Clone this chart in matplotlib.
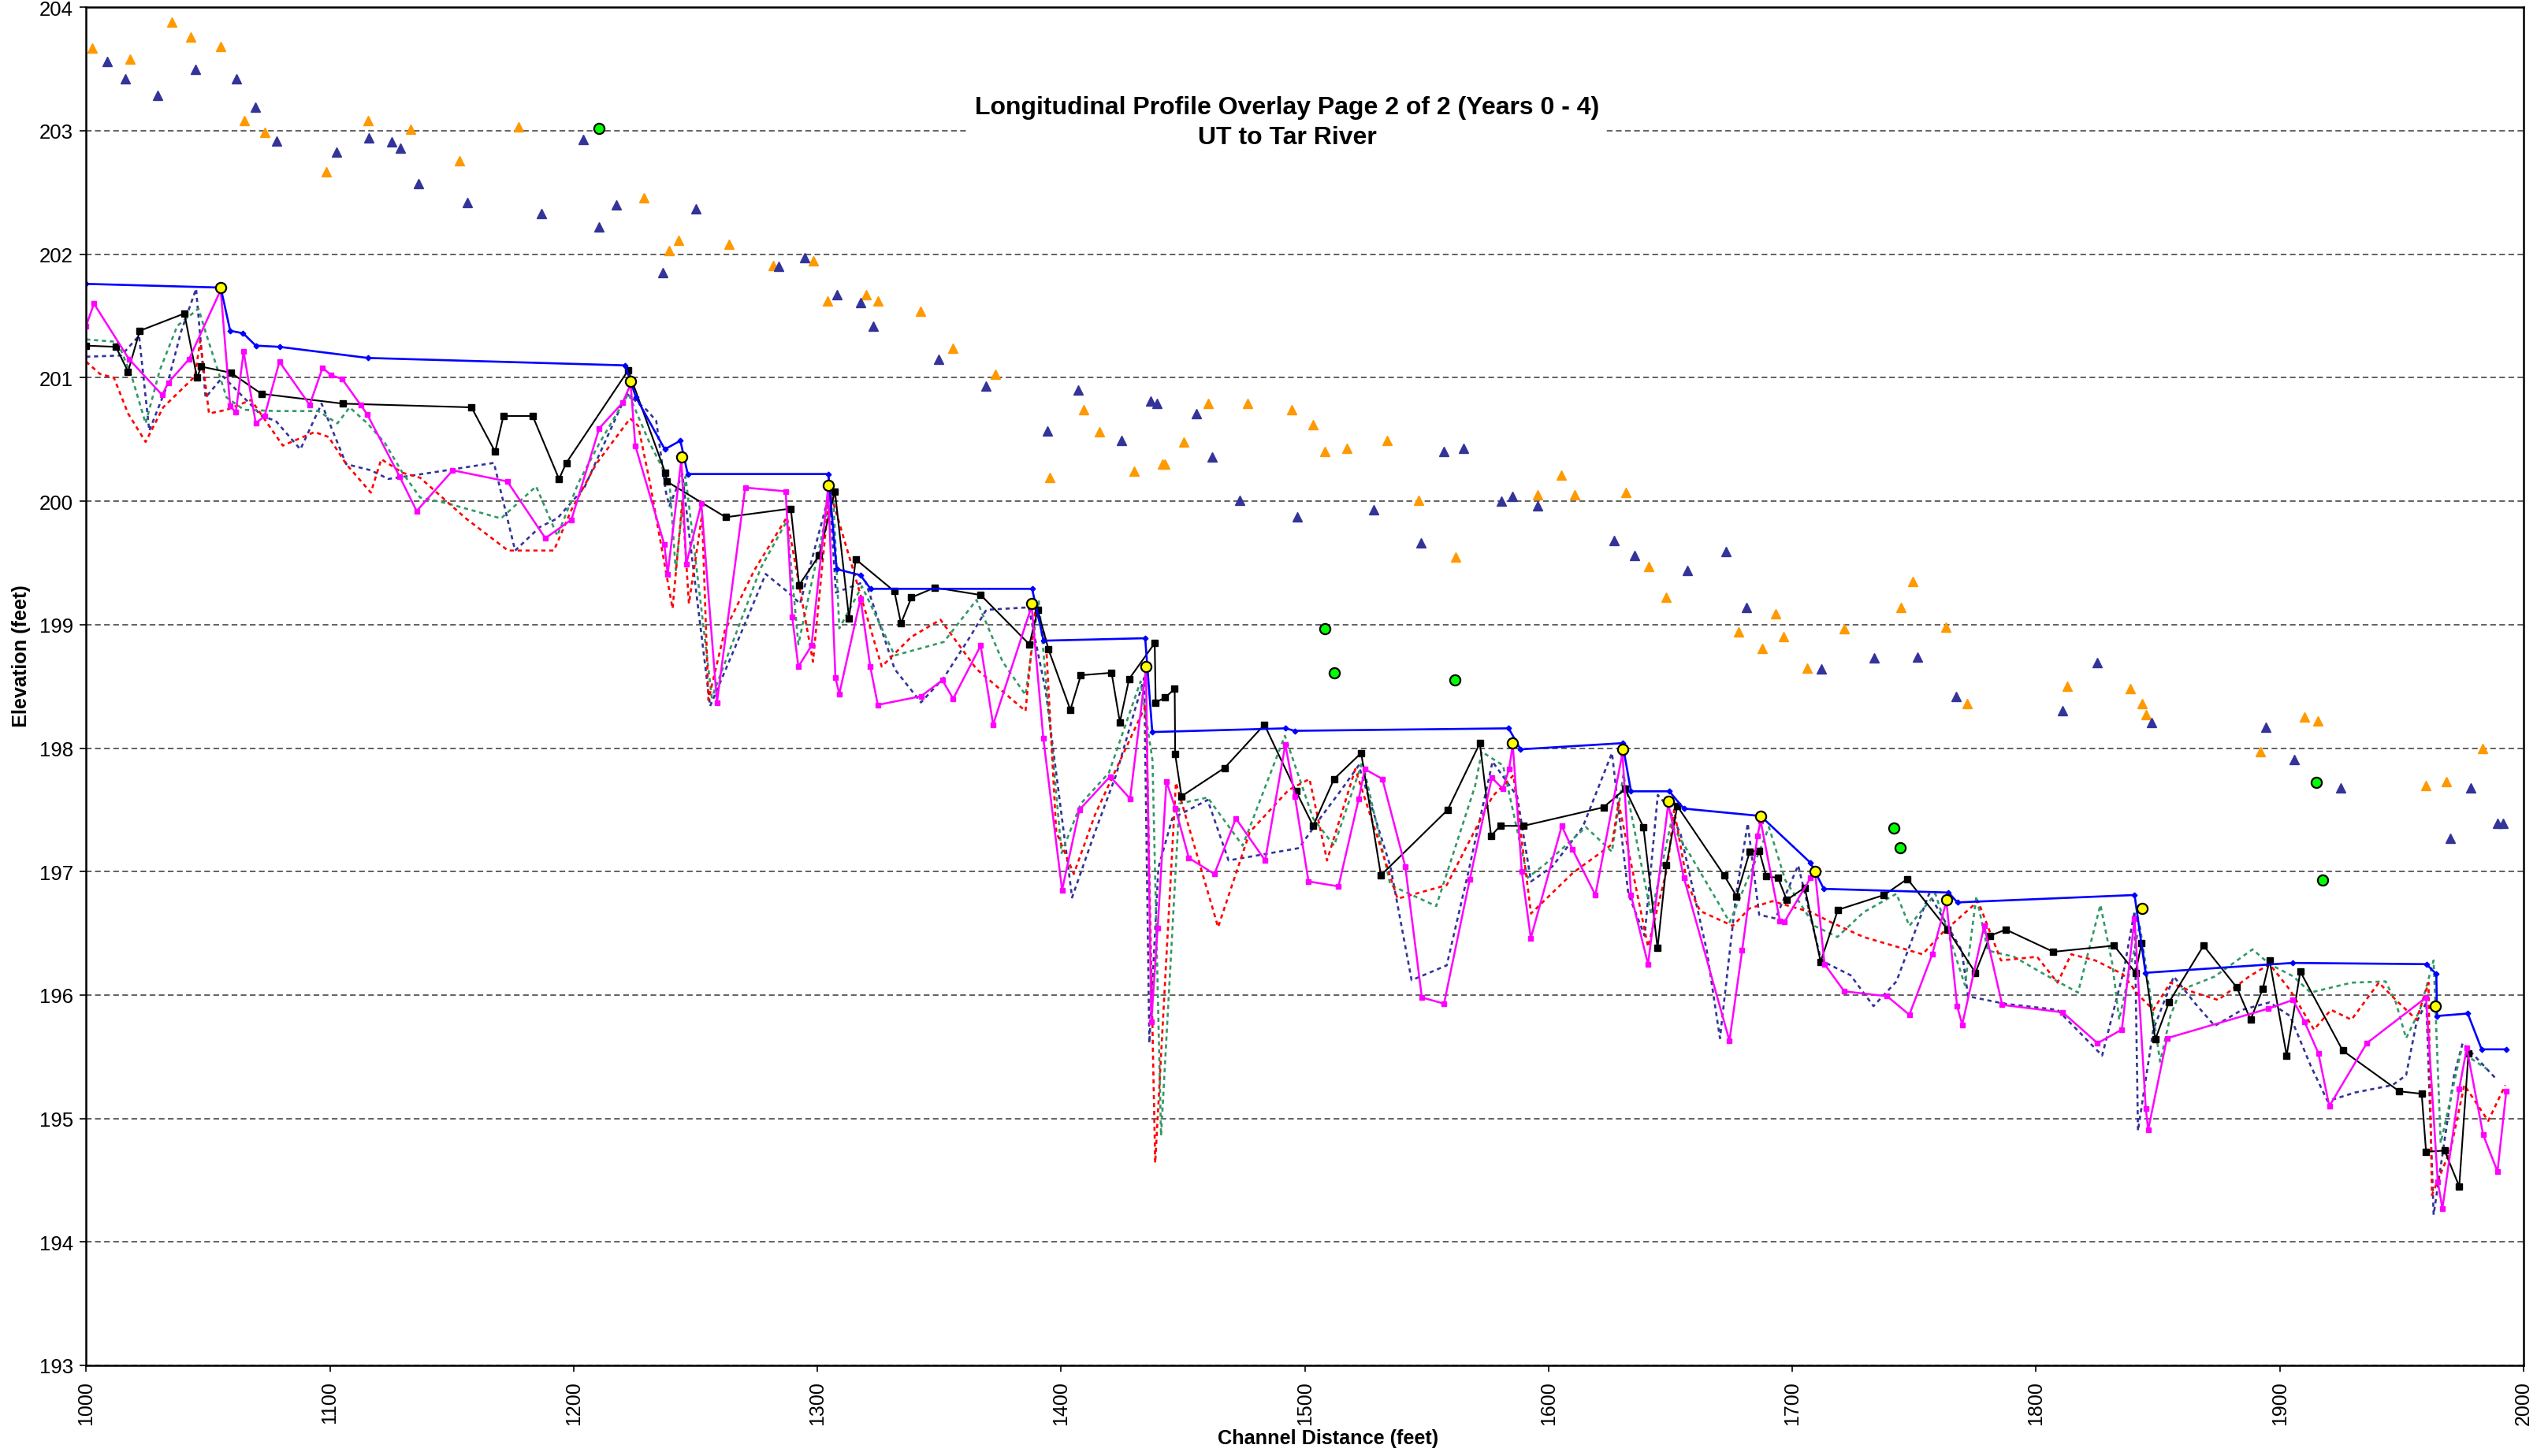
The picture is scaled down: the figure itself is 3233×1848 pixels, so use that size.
import matplotlib
matplotlib.use("Agg")
import matplotlib.pyplot as plt

plt.rcParams['font.family'] = ['Liberation Sans', 'DejaVu Sans']

# ---------------- data ----------------
blue_x = [1000, 1055.2, 1059.1, 1064.4, 1069.6, 1079.3, 1115.6, 1221.1, 1225.6, 1237.4, 1243.8, 1246.8,
          1304.5, 1307.9, 1317.7, 1321.8, 1388.1, 1392.8, 1434.5, 1437.4, 1492.1, 1495.9, 1583.6, 1588.5,
          1630.3, 1633.8, 1649.5, 1655.5, 1687.0, 1707.5, 1712.9, 1764.1, 1767.7, 1840.4, 1844.9, 1905.3,
          1960.1, 1964.2, 1964.5, 1977.1, 1982.8, 1992.9]
blue_y = [201.76, 201.73, 201.38, 201.36, 201.26, 201.25, 201.16, 201.10, 200.84, 200.42, 200.49, 200.22,
          200.22, 199.45, 199.40, 199.29, 199.29, 198.87, 198.89, 198.13, 198.16, 198.14, 198.16, 197.99,
          198.04, 197.65, 197.65, 197.51, 197.45, 197.07, 196.86, 196.83, 196.75, 196.81, 196.18, 196.26,
          196.25, 196.17, 195.83, 195.85, 195.56, 195.56]

black_x = [1000, 1012.2, 1017.2, 1022.0, 1040.3, 1045.5, 1047.2, 1059.4, 1071.9, 1105.3, 1158.1, 1167.8,
           1171.2, 1183.2, 1194.0, 1197.0, 1222.4, 1237.6, 1238.2, 1262.4, 1289.1, 1292.5, 1300.7, 1307.2,
           1313.0, 1315.7, 1331.6, 1334.3, 1338.6, 1348.2, 1367.0, 1387.0, 1390.4, 1394.8, 1403.8, 1408.1,
           1420.7, 1424.1, 1427.9, 1438.4, 1438.8, 1442.7, 1446.6, 1446.8, 1449.4, 1467.1, 1483.4, 1496.4,
           1503.4, 1512.0, 1523.1, 1531.2, 1558.6, 1571.8, 1576.4, 1580.2, 1589.7, 1622.5, 1631.4, 1638.9,
           1644.7, 1648.3, 1652.8, 1672.0, 1677.1, 1682.5, 1686.4, 1689.3, 1694.1, 1697.7, 1705.1, 1711.6,
           1718.7, 1737.6, 1747.2, 1763.7, 1775.1, 1781.1, 1787.6, 1807.1, 1832.0, 1840.8, 1843.3, 1848.9,
           1854.5, 1868.7, 1882.4, 1888.0, 1893.0, 1895.8, 1902.8, 1908.4, 1925.8, 1949.0, 1958.2, 1960.0,
           1967.6, 1973.6, 1977.4]
black_y = [201.26, 201.25, 201.05, 201.38, 201.52, 201.00, 201.09, 201.04, 200.87, 200.79, 200.76, 200.40,
           200.69, 200.69, 200.18, 200.31, 201.06, 200.23, 200.16, 199.87, 199.94, 199.32, 199.56, 200.08,
           199.05, 199.53, 199.27, 199.01, 199.22, 199.30, 199.24, 198.84, 199.12, 198.80, 198.31, 198.59,
           198.61, 198.21, 198.56, 198.85, 198.37, 198.41, 198.48, 197.95, 197.61, 197.84, 198.19, 197.65,
           197.37, 197.75, 197.96, 196.97, 197.50, 198.04, 197.29, 197.37, 197.37, 197.52, 197.67, 197.36,
           196.38, 197.05, 197.53, 196.97, 196.80, 197.16, 197.17, 196.96, 196.95, 196.77, 196.87, 196.27,
           196.69, 196.81, 196.94, 196.53, 196.18, 196.48, 196.53, 196.35, 196.40, 196.18, 196.42, 195.64,
           195.94, 196.40, 196.06, 195.80, 196.05, 196.28, 195.51, 196.19, 195.55, 195.22, 195.20, 194.73,
           194.74, 194.45, 195.53]

magenta_x = [1000, 1003.2, 1017.6, 1031.2, 1033.7, 1042.2, 1055.2, 1059.1, 1061.4, 1064.6, 1069.6, 1073.2,
             1079.3, 1091.7, 1097.0, 1100.6, 1105.0, 1112.6, 1115.4, 1128.6, 1135.6, 1150.4, 1172.8, 1188.4,
             1199.1, 1210.5, 1220.2, 1223.4, 1225.3, 1237.2, 1238.6, 1244.2, 1246.2, 1252.4, 1258.8, 1270.4,
             1287.0, 1289.7, 1292.2, 1297.6, 1304.4, 1307.4, 1309.0, 1317.7, 1321.7, 1324.8, 1342.5, 1351.3,
             1355.7, 1367.0, 1372.1, 1387.9, 1392.7, 1400.4, 1407.5, 1420.1, 1428.3, 1434.8, 1437.0, 1439.6,
             1443.2, 1446.9, 1452.4, 1462.9, 1471.7, 1483.7, 1492.0, 1495.9, 1501.5, 1513.8, 1522.1, 1524.6,
             1531.8, 1541.2, 1548.0, 1557.1, 1567.7, 1576.7, 1581.2, 1583.8, 1585.3, 1589.0, 1592.7, 1605.4,
             1609.8, 1619.2, 1630.3, 1633.8, 1640.8, 1649.1, 1655.5, 1674.2, 1679.4, 1685.7, 1687.0, 1694.9,
             1696.7, 1707.5, 1709.3, 1713.2, 1721.3, 1738.9, 1748.0, 1757.4, 1763.2, 1767.6, 1769.7, 1778.7,
             1786.1, 1810.9, 1825.2, 1835.2, 1840.4, 1845.0, 1846.0, 1853.7, 1895.3, 1905.4, 1910.2, 1915.8,
             1920.3, 1935.7, 1960.0, 1964.8, 1966.7, 1973.6, 1976.7, 1983.4, 1989.3, 1992.9]
magenta_y = [201.42, 201.60, 201.15, 200.86, 200.96, 201.15, 201.71, 200.77, 200.72, 201.21, 200.63, 200.69,
             201.13, 200.78, 201.08, 201.02, 200.99, 200.78, 200.70, 200.20, 199.92, 200.25, 200.16, 199.70,
             199.85, 200.59, 200.80, 200.95, 200.45, 199.65, 199.41, 200.34, 199.49, 199.98, 198.37, 200.11,
             200.08, 199.06, 198.66, 198.83, 200.11, 198.57, 198.44, 199.21, 198.66, 198.35, 198.42, 198.55,
             198.40, 198.83, 198.19, 199.15, 198.08, 196.85, 197.50, 197.77, 197.59, 198.64, 195.78, 196.54,
             197.73, 197.51, 197.11, 196.98, 197.43, 197.09, 198.03, 197.61, 196.92, 196.88, 197.59, 197.83,
             197.75, 197.04, 195.98, 195.93, 196.94, 197.76, 197.67, 197.83, 198.03, 197.00, 196.46, 197.37,
             197.18, 196.81, 197.96, 196.81, 196.25, 197.55, 196.95, 195.63, 196.36, 197.29, 197.41, 196.60,
             196.59, 196.95, 197.00, 196.25, 196.03, 195.99, 195.84, 196.33, 196.76, 195.91, 195.76, 196.56,
             195.92, 195.86, 195.61, 195.72, 196.62, 195.08, 194.91, 195.65, 195.89, 195.96, 195.78, 195.53,
             195.10, 195.61, 195.98, 194.49, 194.27, 195.24, 195.57, 194.87, 194.57, 195.22]

navy_x = [1000, 1014.4, 1021.7, 1025.9, 1033.1, 1038.9, 1045.1, 1049.0, 1056.2, 1072.1, 1077.8, 1087.9,
          1096.6, 1106.7, 1116.8, 1124.0, 1141.3, 1167.3, 1176.0, 1186.1, 1193.3, 1204.4, 1221.8, 1229.9,
          1233.9, 1237.9, 1239.3, 1244.6, 1247.3, 1256.0, 1266.1, 1278.8, 1287.5, 1292.9, 1302.9, 1305.0,
          1307.6, 1319.7, 1331.7, 1342.5, 1351.9, 1362.6, 1369.3, 1386.7, 1393.7, 1404.5, 1413.9, 1422.5,
          1434.1, 1436.2, 1439.9, 1445.6, 1460.1, 1468.7, 1477.4, 1497.6, 1506.2, 1514.9, 1522.1, 1535.1,
          1543.8, 1558.2, 1566.9, 1577.0, 1587.1, 1592.8, 1601.5, 1614.0, 1626.0, 1632.7, 1639.4, 1644.8,
          1648.8, 1654.2, 1664.9, 1670.3, 1677.0, 1681.7, 1686.4, 1693.1, 1702.4, 1711.8, 1723.9, 1733.3,
          1742.7, 1756.1, 1769.5, 1772.1, 1786.9, 1808.8, 1827.1, 1836.0, 1840.4, 1841.8, 1848.1, 1856.5,
          1864.9, 1873.3, 1884.5, 1895.8, 1904.2, 1912.6, 1919.6, 1930.8, 1946.2, 1951.8, 1956.1, 1960.1,
          1963.1, 1971.5, 1975.0, 1988.3]
navy_y = [201.17, 201.18, 201.34, 200.57, 200.93, 201.37, 201.72, 200.84, 201.01, 200.69, 200.65, 200.42,
          200.79, 200.30, 200.25, 200.18, 200.23, 200.31, 199.60, 199.79, 199.86, 200.11, 200.87, 200.74,
          200.65, 200.07, 199.96, 200.22, 199.75, 198.34, 198.81, 199.41, 199.27, 199.17, 199.91, 200.07,
          199.26, 199.35, 198.64, 198.37, 198.57, 198.90, 199.12, 199.14, 198.46, 196.79, 197.32, 197.78,
          198.57, 195.61, 197.03, 197.43, 197.58, 197.09, 197.12, 197.19, 197.43, 197.66, 197.86, 197.04,
          196.12, 196.24, 196.98, 197.89, 197.61, 196.92, 197.04, 197.36, 197.96, 196.82, 196.48, 197.62,
          197.53, 197.30, 196.36, 195.65, 196.82, 197.39, 196.65, 196.62, 197.05, 196.28, 196.16, 195.91,
          196.11, 196.82, 196.36, 195.99, 195.93, 195.88, 195.51, 196.20, 196.68, 194.90, 195.72, 196.15,
          195.94, 195.75, 195.88, 195.94, 195.83, 195.43, 195.14, 195.21, 195.27, 195.35, 195.78, 195.94,
          194.22, 195.35, 195.61, 195.33]

green_x = [1000, 1012.9, 1018.7, 1024.4, 1030.2, 1037.4, 1046.1, 1049.0, 1057.6, 1064.8, 1077.8, 1095.2,
           1103.1, 1108.1, 1115.4, 1122.6, 1129.8, 1137.0, 1148.6, 1170.2, 1184.6, 1193.3, 1202.0, 1210.6,
           1222.5, 1231.2, 1239.3, 1241.9, 1245.9, 1250.0, 1256.7, 1276.8, 1287.5, 1292.2, 1306.3, 1309.0,
           1318.3, 1331.7, 1351.9, 1365.3, 1376.0, 1385.4, 1390.8, 1400.2, 1408.1, 1419.6, 1432.6, 1437.5,
           1441.0, 1448.5, 1460.1, 1474.5, 1491.8, 1503.4, 1512.0, 1523.6, 1535.1, 1553.9, 1569.8, 1572.6,
           1581.3, 1591.4, 1598.6, 1615.3, 1626.0, 1630.7, 1642.1, 1650.2, 1658.2, 1674.3, 1686.4, 1690.4,
           1697.1, 1709.1, 1718.5, 1729.2, 1742.7, 1748.0, 1758.7, 1770.8, 1775.5, 1780.2, 1790.9, 1803.2,
           1817.2, 1826.4, 1831.3, 1834.1, 1842.5, 1850.9, 1855.1, 1859.3, 1873.3, 1888.8, 1895.8, 1905.6,
           1912.6, 1929.4, 1943.4, 1947.6, 1951.8, 1957.5, 1963.1, 1966.0, 1974.3, 1985.0]
green_y = [201.31, 201.29, 201.01, 200.63, 201.06, 201.42, 201.56, 201.37, 200.84, 200.74, 200.73, 200.73,
           200.63, 200.76, 200.63, 200.47, 200.23, 200.03, 199.98, 199.86, 200.12, 199.72, 200.15, 200.47,
           200.87, 200.47, 200.16, 199.44, 200.20, 199.53, 198.41, 199.46, 199.84, 198.84, 200.13, 198.97,
           199.31, 198.75, 198.86, 199.20, 198.70, 198.43, 199.20, 197.15, 197.55, 197.80, 198.54, 197.90,
           194.86, 197.55, 197.60, 197.21, 198.10, 197.43, 197.21, 197.89, 196.89, 196.72, 197.69, 197.97,
           197.86, 196.95, 197.06, 197.36, 197.16, 197.79, 196.65, 197.39, 197.13, 196.59, 197.16, 197.36,
           196.93, 196.56, 196.47, 196.67, 196.82, 196.56, 196.82, 196.08, 196.80, 196.36, 196.31, 196.17,
           196.02, 196.73, 196.25, 195.80, 196.57, 195.46, 195.83, 196.04, 196.15, 196.37, 196.25, 196.15,
           196.02, 196.10, 196.11, 195.94, 195.65, 195.88, 196.28, 194.80, 195.54, 195.40]

red_x = [1000, 1005.7, 1011.4, 1017.2, 1024.4, 1031.6, 1044.6, 1046.8, 1050.4, 1057.6, 1067.7, 1080.7,
         1093.7, 1099.5, 1106.7, 1116.8, 1121.1, 1129.8, 1137.0, 1155.8, 1173.1, 1191.9, 1199.1, 1209.2,
         1223.2, 1226.5, 1231.2, 1240.6, 1244.6, 1247.3, 1252.7, 1255.3, 1262.0, 1274.1, 1287.5, 1298.2,
         1305.0, 1326.4, 1338.5, 1350.5, 1365.3, 1385.4, 1389.4, 1393.7, 1398.0, 1405.2, 1413.9, 1425.4,
         1434.8, 1438.6, 1447.1, 1464.4, 1477.4, 1493.3, 1501.9, 1509.1, 1520.7, 1538.0, 1558.2, 1577.0,
         1585.6, 1592.8, 1610.0, 1626.0, 1628.7, 1634.1, 1640.8, 1648.8, 1651.5, 1656.9, 1662.2, 1675.6,
         1682.3, 1691.7, 1707.8, 1715.8, 1729.2, 1753.4, 1761.4, 1776.2, 1785.6, 1800.4, 1808.8, 1814.4,
         1824.3, 1835.5, 1842.5, 1848.1, 1855.1, 1864.9, 1874.7, 1887.4, 1895.8, 1904.2, 1914.0, 1921.0,
         1929.4, 1940.6, 1947.6, 1956.1, 1961.0, 1962.4, 1970.1, 1975.7, 1985.5, 1992.5]
red_y = [201.13, 201.03, 201.00, 200.71, 200.48, 200.76, 201.01, 201.30, 200.71, 200.74, 200.82, 200.45,
         200.56, 200.52, 200.30, 200.07, 200.34, 200.23, 200.19, 199.86, 199.60, 199.60, 199.93, 200.30,
         200.67, 200.61, 200.16, 199.13, 200.00, 199.17, 199.89, 198.39, 198.95, 199.44, 199.87, 198.70,
         200.09, 198.66, 198.90, 199.04, 198.64, 198.30, 199.13, 198.89, 197.32, 196.98, 197.46, 197.95,
         198.35, 194.64, 197.72, 196.55, 197.32, 197.66, 197.75, 197.09, 197.83, 196.78, 196.89, 197.61,
         197.78, 196.66, 196.99, 197.22, 197.56, 197.04, 196.39, 197.04, 197.50, 196.90, 196.68, 196.56,
         196.70, 196.76, 196.67, 196.59, 196.47, 196.33, 196.50, 196.76, 196.28, 196.31, 196.10, 196.33,
         196.28, 196.17, 195.99, 195.88, 196.10, 196.02, 195.96, 196.15, 196.25, 196.04, 195.72, 195.88,
         195.80, 196.10, 195.96, 195.80, 196.10, 194.38, 194.75, 195.27, 194.98, 195.27]

orange_tri_x = [1002.6, 1018.0, 1035.3, 1042.9, 1055.2, 1065.0, 1073.4, 1098.5, 1115.8, 1133.1, 1153.1,
                1177.3, 1228.8, 1239.3, 1243.0, 1263.6, 1281.9, 1298.3, 1304.2, 1320.0, 1325.0, 1342.3,
                1355.7, 1373.0, 1395.5, 1409.1, 1415.8, 1430.1, 1441.5, 1442.7, 1450.2, 1460.3, 1476.6,
                1494.5, 1503.4, 1508.3, 1517.2, 1533.8, 1546.7, 1562.0, 1595.6, 1605.3, 1610.8, 1631.6,
                1641.2, 1648.3, 1678.0, 1687.6, 1693.2, 1696.3, 1706.2, 1721.4, 1744.4, 1749.5, 1763.0,
                1771.8, 1812.7, 1838.8, 1843.4, 1845.1, 1892.1, 1910.1, 1915.6, 1959.8, 1968.4, 1983.1]
orange_tri_y = [203.67, 203.58, 203.88, 203.76, 203.68, 203.08, 202.99, 202.67, 203.08, 203.01, 202.76,
                203.03, 202.46, 202.03, 202.11, 202.08, 201.91, 201.95, 201.62, 201.67, 201.62, 201.54,
                201.24, 201.03, 200.19, 200.74, 200.56, 200.24, 200.30, 200.30, 200.48, 200.79, 200.79,
                200.74, 200.62, 200.40, 200.43, 200.49, 200.01, 199.55, 200.05, 200.21, 200.05, 200.07,
                199.47, 199.22, 198.94, 198.81, 199.09, 198.90, 198.65, 198.97, 199.14, 199.35, 198.98,
                198.36, 198.50, 198.48, 198.36, 198.27, 197.97, 198.25, 198.22, 197.70, 197.73, 198.00]

navy_tri_x = [1008.7, 1016.1, 1029.3, 1044.8, 1061.7, 1069.3, 1078.3, 1102.6, 1115.9, 1125.5, 1128.8,
              1136.4, 1156.4, 1186.7, 1204.0, 1210.3, 1217.4, 1236.7, 1250.2, 1284.2, 1294.8, 1308.2,
              1317.6, 1323.0, 1349.7, 1369.0, 1394.3, 1407.1, 1424.7, 1436.6, 1439.3, 1455.4, 1461.8,
              1473.2, 1496.9, 1528.1, 1547.6, 1557.0, 1565.2, 1580.5, 1585.2, 1595.6, 1626.8, 1635.4,
              1657.0, 1672.7, 1681.3, 1712.0, 1733.5, 1751.3, 1767.3, 1810.9, 1825.1, 1847.4, 1894.3,
              1906.0, 1925.0, 1969.9, 1978.3, 1989.2, 1991.7]
navy_tri_y = [203.56, 203.42, 203.29, 203.50, 203.42, 203.19, 202.92, 202.83, 202.94, 202.91, 202.86,
              202.57, 202.42, 202.33, 202.93, 202.22, 202.40, 201.85, 202.37, 201.90, 201.97, 201.67,
              201.61, 201.42, 201.15, 200.93, 200.57, 200.90, 200.49, 200.81, 200.79, 200.71, 200.36,
              200.01, 199.87, 199.93, 199.66, 200.40, 200.43, 200.00, 200.04, 199.96, 199.68, 199.56,
              199.44, 199.59, 199.14, 198.64, 198.73, 198.74, 198.42, 198.30, 198.69, 198.21, 198.17,
              197.91, 197.68, 197.27, 197.68, 197.39, 197.39]

yellow_x = [1055.2, 1223.4, 1244.2, 1304.4, 1387.9, 1434.8, 1585.2, 1630.3, 1649.1, 1687.0, 1709.3,
            1763.2, 1843.5, 1963.9]
yellow_y = [201.73, 200.97, 200.36, 200.13, 199.17, 198.66, 198.04, 197.99, 197.57, 197.45, 197.00,
            196.77, 196.70, 195.91]

green_pt_x = [1210.3, 1508.3, 1512.2, 1561.4, 1741.7, 1744.3, 1914.9, 1917.4]
green_pt_y = [203.02, 198.97, 198.61, 198.55, 197.35, 197.19, 197.72, 196.93]

x_ticks = list(range(1000, 2001, 100))
y_ticks = list(range(193, 205))
title_text = "Longitudinal Profile Overlay Page 2 of 2 (Years 0 - 4)\nUT to Tar River"
x_label = "Channel Distance (feet)"
y_label = "Elevation (feet)"

# ---------------- figure ----------------
W, H = 3233, 1849
fig = plt.figure(figsize=(W / 100, H / 100), dpi=100)
ax = fig.add_axes([109.3 / W, 1 - 1734 / H, (3202 - 109.3) / W, (1734 - 10.3) / H])

dot = (0, (2.0, 1.8))
ax.plot(navy_x, navy_y, color='#333399', lw=1.9, ls=dot, zorder=2)
ax.plot(green_x, green_y, color='#339966', lw=1.9, ls=dot, zorder=2)
ax.plot(red_x, red_y, color='#FF0000', lw=1.9, ls=dot, zorder=2)

ax.plot(black_x, black_y, color='black', lw=1.5, marker='s', ms=5.4, mfc='black', mec='black', zorder=3)
ax.plot(magenta_x, magenta_y, color='#FF00FF', lw=1.8, marker='s', ms=5.0, mfc='#FF00FF',
        mec='#FF00FF', zorder=4)
ax.plot(blue_x, blue_y, color='#0000FF', lw=1.9, marker='D', ms=3.4, mfc='#0000FF', mec='#0000FF',
        zorder=5)

ax.plot(orange_tri_x, orange_tri_y, ls='none', marker='^', ms=8, mfc='#FF9900', mec='#FF9900', zorder=6)
ax.plot(navy_tri_x, navy_tri_y, ls='none', marker='^', ms=8, mfc='#333399', mec='#333399', zorder=6)

ax.plot(yellow_x, yellow_y, ls='none', marker='o', ms=9.5, mfc='#FFFF00', mec='black', mew=1.6, zorder=7)
ax.plot(green_pt_x, green_pt_y, ls='none', marker='o', ms=9.5, mfc='#00FF00', mec='black', mew=1.6,
        zorder=7)

ax.set_xlim(1000, 2000)
ax.set_ylim(193, 204)
ax.set_xticks(x_ticks)
ax.set_yticks(y_ticks)
ax.set_xticklabels([str(v) for v in x_ticks], rotation=90, fontsize=18)
ax.set_yticklabels([str(v) for v in y_ticks], fontsize=18.5)
ax.tick_params(axis='both', direction='out', length=6, width=1.2, color='black')
ax.tick_params(axis='x', pad=8)
ax.tick_params(axis='y', pad=6)

ax.yaxis.grid(True, linestyle=(0, (4, 2.4)), color='#555555', lw=1.3)
ax.set_axisbelow(True)
for s in ax.spines.values():
    s.set_color('black')
    s.set_linewidth(1.8)
    s.set_zorder(8)

ax.set_xlabel(x_label, fontsize=18.2, fontweight='bold')
ax.set_ylabel(y_label, fontsize=18.2, fontweight='bold')
ax.xaxis.set_label_coords(0.5095, -0.0464)
ax.yaxis.set_label_coords(-0.0227, 0.523)

ax.text(0.4927, 0.9157, title_text, transform=ax.transAxes, ha='center', va='center',
        fontsize=23, fontweight='bold', linespacing=1.35, zorder=9,
        bbox=dict(facecolor='white', edgecolor='none', pad=6))

fig.savefig("out.png", dpi=100)
